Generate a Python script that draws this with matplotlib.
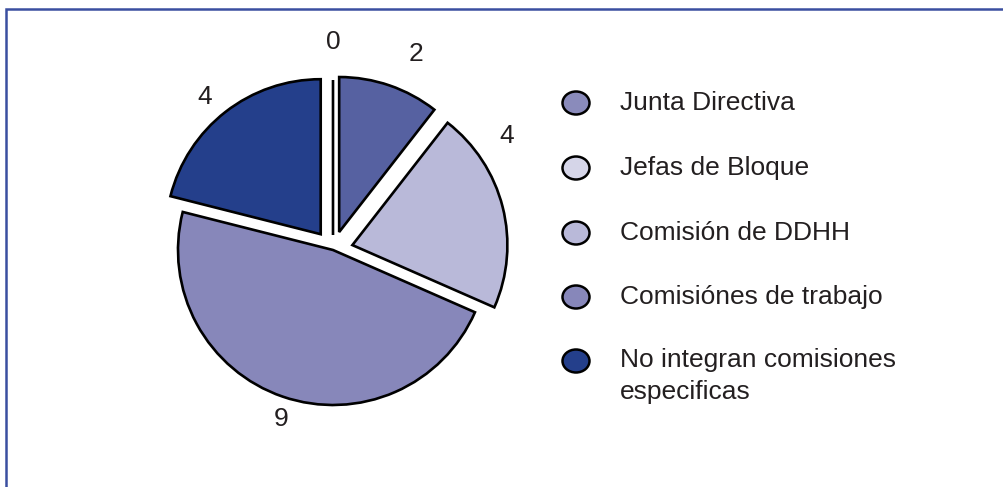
import numpy as np
import matplotlib

matplotlib.use("Agg")
import matplotlib.pyplot as plt
from matplotlib.patches import Ellipse

categories = [
    "Junta Directiva",
    "Jefas de Bloque",
    "Comisión de DDHH",
    "Comisiónes de trabajo",
    "No integran comisiones\nespecificas",
]
values = [0, 2, 4, 9, 4]
slice_colors = ["#8a8bbb", "#5661a1", "#b9b9d9", "#8787ba", "#243f8b"]
legend_colors = ["#8a8bbb", "#d5d5e8", "#b9b9d9", "#8787ba", "#243f8b"]
# explode offsets in pixels (pie uses data units)
explode = [15, 19, 20, 0, 20]
# label angle shift (deg) and distance relative to radius
label_shift = [0, -4, 19, 2, 2]
label_dist = [1.34, 1.37, 1.34, 1.14, 1.29]

W, H = 1004, 487
plt.rcParams["font.family"] = ["Liberation Sans", "DejaVu Sans"]
text_color = "#231f20"

fig = plt.figure(figsize=(W / 100, H / 100), dpi=100)
ax = fig.add_axes([0, 0, 1, 1])

cx, cy, r = 333, H - 250, 155
wedges, _ = ax.pie(
    values,
    colors=slice_colors,
    explode=explode,
    startangle=90,
    counterclock=False,
    radius=r,
    center=(cx, cy),
    frame=True,
    wedgeprops=dict(edgecolor="black", linewidth=1.9),
)
ax.set_xlim(0, W)
ax.set_ylim(0, H)
ax.set_aspect("equal")
ax.axis("off")

total = sum(values)
start = 90.0
for v, shift, dist in zip(values, label_shift, label_dist):
    span = v / total * 360
    mid = np.deg2rad(start - span / 2 + shift)
    ax.text(cx + dist * r * np.cos(mid), cy + dist * r * np.sin(mid), str(v),
            ha="center", va="center", fontsize=19, color=text_color)
    start -= span

# legend
ys = [103, 168, 233, 297, 361]
for name, col, y in zip(categories, legend_colors, ys):
    ax.add_patch(Ellipse((576, H - y), 27, 23, facecolor=col,
                         edgecolor="black", linewidth=1.8))
    if "\n" in name:
        ax.text(620, H - y + 13, name, ha="left", va="top",
                fontsize=19, color=text_color, linespacing=1.42)
    else:
        ax.text(620, H - y, name, ha="left", va="center",
                fontsize=19, color=text_color)

# frame lines
ax.plot([6.5, 6.5, W], [0, H - 8.5, H - 8.5], color="#3a4fa0", linewidth=1.8,
        solid_joinstyle="miter")

fig.savefig("out.png", dpi=100)
